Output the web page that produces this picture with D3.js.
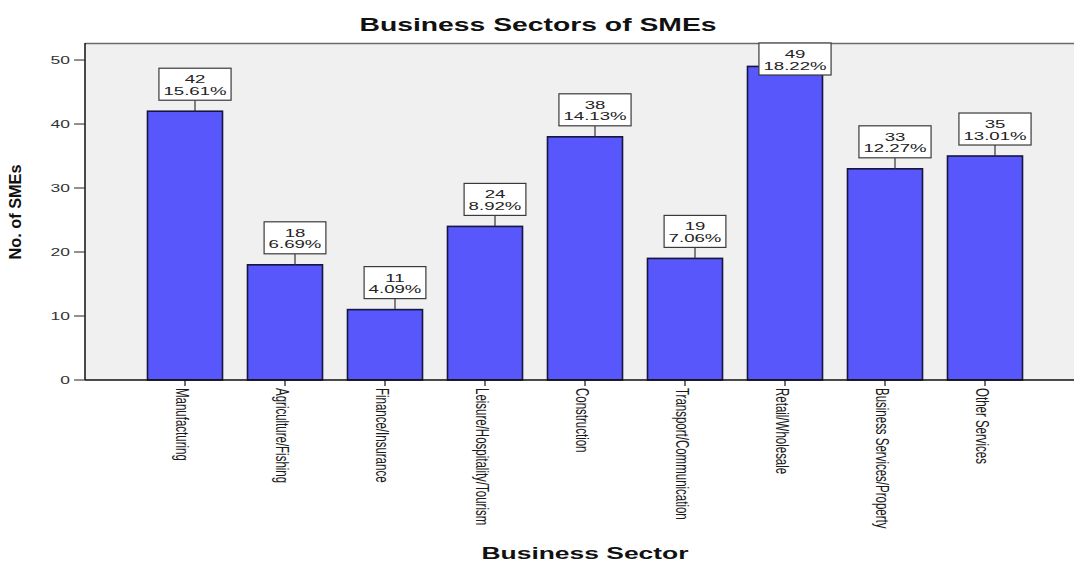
<!DOCTYPE html>
<html>
<head>
<meta charset="utf-8">
<script src="https://cdn.jsdelivr.net/npm/d3@7"></script>
<style>
  html, body { margin: 0; padding: 0; background: #ffffff; }
  svg { display: block; }
  text { font-family: "Liberation Sans", Arial, sans-serif; }
</style>
</head>
<body>
<svg id="chart" width="1074" height="561"></svg>
<script>
// Number of SMEs in each business sector
const sectors = [
  "Manufacturing",
  "Agriculture/Fishing",
  "Finance/Insurance",
  "Leisure/Hospitality/Tourism",
  "Construction",
  "Transport/Communication",
  "Retail/Wholesale",
  "Business Services/Property",
  "Other Services"
];
const counts = [42, 18, 11, 24, 38, 19, 49, 33, 35];
const percents = ["15.61%", "6.69%", "4.09%", "8.92%", "14.13%", "7.06%", "18.22%", "12.27%", "13.01%"];
const yTicks = [0, 10, 20, 30, 40, 50];

const titleText = "Business Sectors of SMEs";
const xTitleText = "Business Sector";
const yTitleText = "No. of SMEs";

// Layout
const W = 1074, H = 561;
const plot = { left: 85, top: 43, right: 1074, bottom: 380 };
const sx = 1.62;          // horizontal stretch of the small texts
const barFill = "#5757fb";
const barStroke = "#15153f";

const svg = d3.select("#chart");

const x = d3.scaleBand()
  .domain(sectors)
  .range([135, 1035])
  .paddingInner(0.25)
  .paddingOuter(0.125);

const y = d3.scaleLinear()
  .domain([0, 52.66])
  .range([plot.bottom, plot.top]);

// Plot background
svg.append("rect")
  .attr("x", plot.left).attr("y", plot.top)
  .attr("width", plot.right - plot.left)
  .attr("height", plot.bottom - plot.top)
  .attr("fill", "#f0f0f0");

// Top frame line
svg.append("line")
  .attr("x1", plot.left).attr("x2", plot.right)
  .attr("y1", plot.top + 0.5).attr("y2", plot.top + 0.5)
  .attr("stroke", "#6a6a6a").attr("stroke-width", 1.5);

// Bars
const data = sectors.map((s, i) => ({ sector: s, count: counts[i], pct: percents[i] }));

svg.append("g").selectAll("rect")
  .data(data)
  .join("rect")
  .attr("x", d => x(d.sector))
  .attr("y", d => y(d.count))
  .attr("width", x.bandwidth())
  .attr("height", d => y(0) - y(d.count))
  .attr("fill", barFill)
  .attr("stroke", barStroke)
  .attr("stroke-width", 1.6);

// Y axis
const yAxis = svg.append("g");
yAxis.append("line")
  .attr("x1", plot.left).attr("x2", plot.left)
  .attr("y1", plot.top).attr("y2", plot.bottom)
  .attr("stroke", "#111").attr("stroke-width", 1.5);
const yt = yAxis.selectAll("g.tick").data(yTicks).join("g").attr("class", "tick");
yt.append("line")
  .attr("x1", plot.left - 11).attr("x2", plot.left)
  .attr("y1", d => y(d)).attr("y2", d => y(d))
  .attr("stroke", "#222").attr("stroke-width", 1);
yt.append("text")
  .attr("transform", d => `translate(70,${y(d) + 3.7}) scale(1.75,1)`)
  .attr("text-anchor", "end")
  .attr("font-size", 10)
  .attr("fill", "#333")
  .text(d => d);

// X axis baseline and ticks
svg.append("line")
  .attr("x1", plot.left).attr("x2", plot.right)
  .attr("y1", plot.bottom).attr("y2", plot.bottom)
  .attr("stroke", "#111").attr("stroke-width", 1.5);

const xt = svg.append("g").selectAll("g").data(sectors).join("g");
xt.append("line")
  .attr("x1", d => x(d) + x.bandwidth() / 2)
  .attr("x2", d => x(d) + x.bandwidth() / 2)
  .attr("y1", plot.bottom).attr("y2", plot.bottom + 6)
  .attr("stroke", "#111").attr("stroke-width", 1.2);
xt.append("text")
  .attr("transform", d => `translate(${x(d) + x.bandwidth() / 2 - 9.5},388) rotate(90) scale(1,1.6)`)
  .attr("text-anchor", "start")
  .attr("font-size", 11.5)
  .attr("fill", "#1a1a1a")
  .text(d => d);

// Value labels: count and share in a boxed callout above each bar
const boxH = 32, gap = 11, labelShift = 10;
const lbl = svg.append("g").selectAll("g").data(data).join("g");

lbl.each(function(d) {
  const g = d3.select(this);
  const cx = x(d.sector) + x.bandwidth() / 2 + labelShift;
  const top = Math.max(plot.top, y(d.count) - gap - boxH);
  const bottom = top + boxH;

  // connector
  if (bottom < y(d.count)) {
    g.append("line")
      .attr("x1", cx).attr("x2", cx)
      .attr("y1", bottom).attr("y2", y(d.count))
      .attr("stroke", "#333").attr("stroke-width", 1.2);
  }
  const box = g.append("rect")
    .attr("y", top).attr("height", boxH)
    .attr("fill", "#ffffff")
    .attr("stroke", "#3a3a3a").attr("stroke-width", 1.2);

  const t1 = g.append("text")
    .attr("transform", `translate(${cx},${top + 15}) scale(${sx},1)`)
    .attr("text-anchor", "middle")
    .attr("font-size", 11.5).attr("fill", "#222")
    .text(d.count);
  const t2 = g.append("text")
    .attr("transform", `translate(${cx},${top + 26.6}) scale(${sx},1)`)
    .attr("text-anchor", "middle")
    .attr("font-size", 11.5).attr("fill", "#222")
    .text(d.pct);

  const tw = Math.max(t1.node().getComputedTextLength(), t2.node().getComputedTextLength()) * sx;
  const bw = tw + 9;
  box.attr("x", cx - bw / 2).attr("width", bw);
});

// Titles
svg.append("text")
  .attr("x", 538).attr("y", 31)
  .attr("text-anchor", "middle")
  .attr("font-size", 18).attr("font-weight", "bold").attr("fill", "#111")
  .attr("textLength", 357).attr("lengthAdjust", "spacingAndGlyphs")
  .text(titleText);

svg.append("text")
  .attr("x", 585).attr("y", 559)
  .attr("text-anchor", "middle")
  .attr("font-size", 16).attr("font-weight", "bold").attr("fill", "#111")
  .attr("textLength", 207).attr("lengthAdjust", "spacingAndGlyphs")
  .text(xTitleText);

svg.append("text")
  .attr("transform", "translate(21,212) rotate(-90)")
  .attr("text-anchor", "middle")
  .attr("font-size", 17).attr("font-weight", "bold").attr("fill", "#111")
  .attr("textLength", 95).attr("lengthAdjust", "spacingAndGlyphs")
  .text(yTitleText);
</script>
</body>
</html>
